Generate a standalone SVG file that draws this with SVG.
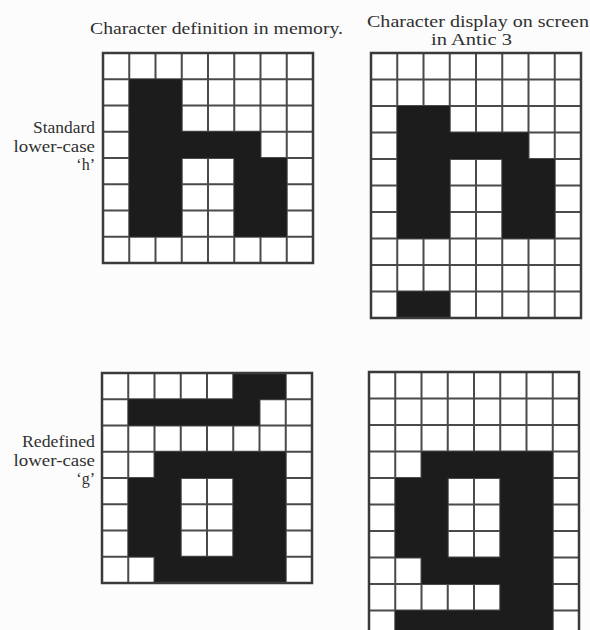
<svg xmlns="http://www.w3.org/2000/svg" width="590" height="630" viewBox="0 0 590 630">
<style>
.bg{fill:#fcfcfc}
.t{font-family:"Liberation Serif","Times New Roman",serif;fill:#303030;font-size:16px}
.l{text-anchor:end}
.cell{fill:#ffffff}
.ink{fill:#1c1c1c;fill-rule:evenodd}
.grid{fill:none;stroke:#4a4a4a;stroke-width:2}
.frame{fill:none;stroke:#3a3a3a;stroke-width:2.5}
</style>
<defs>
<path id="lines8" d="M26.25 0V210M52.5 0V210M78.75 0V210M105 0V210M131.25 0V210M157.5 0V210M183.75 0V210M0 26.25H210M0 52.5H210M0 78.75H210M0 105H210M0 131.25H210M0 157.5H210M0 183.75H210"/>
<path id="lines10" d="M26.25 0V262.5M52.5 0V262.5M78.75 0V262.5M105 0V262.5M131.25 0V262.5M157.5 0V262.5M183.75 0V262.5M0 26.25H210M0 52.5H210M0 78.75H210M0 105H210M0 131.25H210M0 157.5H210M0 183.75H210M0 210H210M0 236.25H210"/>
</defs>
<rect class="bg" x="0" y="0" width="590" height="630"/>

<g id="headings">
<text class="t" x="90" y="34" textLength="253" lengthAdjust="spacingAndGlyphs">Character definition in memory.</text>
<text class="t" x="367" y="27" textLength="222" lengthAdjust="spacingAndGlyphs">Character display on screen</text>
<text class="t" x="431" y="45" textLength="81" lengthAdjust="spacingAndGlyphs">in Antic 3</text>
</g>

<g id="label-h">
<text class="t l" x="95" y="133" textLength="62" lengthAdjust="spacingAndGlyphs">Standard</text>
<text class="t l" x="95" y="151.5" textLength="81.5" lengthAdjust="spacingAndGlyphs">lower-case</text>
<text class="t l" x="95" y="170">‘h’</text>
</g>

<g id="label-g">
<text class="t l" x="95" y="447" textLength="73" lengthAdjust="spacingAndGlyphs">Redefined</text>
<text class="t l" x="95" y="465.5" textLength="81.5" lengthAdjust="spacingAndGlyphs">lower-case</text>
<text class="t l" x="95" y="484">‘g’</text>
</g>

<g id="grid-h-memory" transform="translate(103,53)">
<rect class="cell" x="0" y="0" width="210" height="210"/>
<use href="#lines8" class="grid"/>
<path class="ink" d="M26.25 26.25H78.75V78.75H157.5V105H183.75V183.75H131.25V105H78.75V183.75H26.25Z"/>
<rect class="frame" x="0" y="0" width="210" height="210"/>
</g>

<g id="grid-h-screen" transform="translate(371,53) scale(1,1.0095)">
<rect class="cell" x="0" y="0" width="210" height="262.5"/>
<use href="#lines10" class="grid"/>
<path class="ink" d="M26.25 52.5H78.75V78.75H157.5V105H183.75V183.75H131.25V105H78.75V183.75H26.25Z"/>
<rect class="ink" x="26.25" y="236.25" width="52.5" height="26.25"/>
<rect class="frame" x="0" y="0" width="210" height="262.5"/>
</g>

<g id="grid-g-memory" transform="translate(102,373)">
<rect class="cell" x="0" y="0" width="210" height="210"/>
<use href="#lines8" class="grid"/>
<path class="ink" d="M131.25 0H183.75V26.25H157.5V52.5H26.25V26.25H131.25Z"/>
<path class="ink" d="M52.5 78.75H183.75V210H52.5V183.75H26.25V105H52.5Z M78.75 105V183.75H131.25V105Z"/>
<rect class="frame" x="0" y="0" width="210" height="210"/>
</g>

<g id="grid-g-screen" transform="translate(369,372) scale(1,1.0095)">
<rect class="cell" x="0" y="0" width="210" height="262.5"/>
<use href="#lines10" class="grid"/>
<path class="ink" d="M52.5 78.75H183.75V262.5H26.25V236.25H131.25V210H52.5V183.75H26.25V105H52.5Z M78.75 105V183.75H131.25V105Z"/>
<rect class="frame" x="0" y="0" width="210" height="262.5"/>
</g>

<g id="connectors"/>
</svg>
